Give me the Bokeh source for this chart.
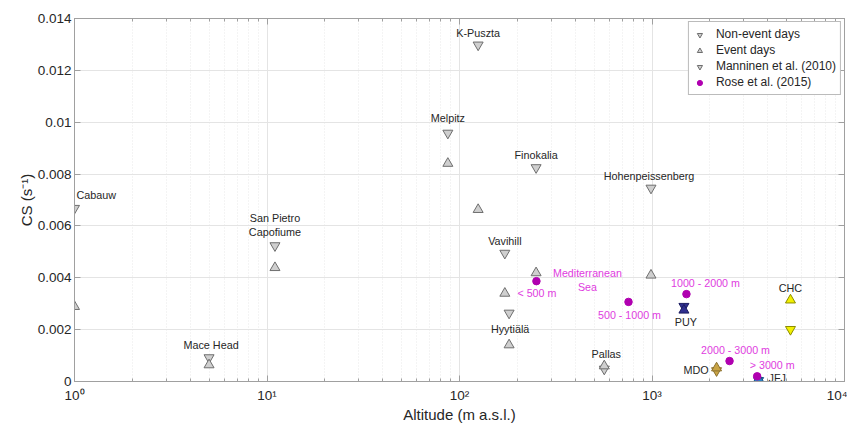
from bokeh.plotting import figure
from bokeh.models import (LogAxis, LinearAxis, FixedTicker, LogTicker, CustomJSTickFormatter,
                          ColumnDataSource, Legend, LegendItem, Range1d)
from bokeh.embed import file_html
from bokeh.resources import INLINE
from bokeh.core.properties import value

# ---------------- data ----------------
sites = ["Cabauw", "Mace Head", "San Pietro Capofiume", "Melpitz", "K-Puszta",
         "Vavihill", "Hyytiälä", "Finokalia", "Pallas", "Hohenpeissenberg"]
site_alt = [1, 5, 11, 87, 125, 172, 181, 250, 565, 988]
cs_nonevent = [0.00668, 0.00092, 0.00524, 0.00958, 0.01298, 0.00495, 0.00264, 0.00825, 0.00048, 0.00746]
cs_event = [0.00289, 0.00064, 0.00439, 0.00841, 0.00663, 0.00340, 0.00141, 0.00419, 0.00060, 0.00410]

stations = ["PUY", "MDO", "JFJ", "CHC"]
station_alt = [1465, 2165, 3580, 5240]
station_nonevent = [0.00290, 0.00042, 0.00004, 0.00201]
station_event = [0.00275, 0.00052, 0.00010, 0.00314]

rose_bins = ["< 500 m", "500 - 1000 m", "1000 - 2000 m", "2000 - 3000 m", "> 3000 m"]
rose_alt = [251, 755, 1510, 2528, 3518]
rose_cs = [0.00387, 0.00307, 0.00337, 0.00079, 0.00020]

y_ticks = [0, 0.002, 0.004, 0.006, 0.008, 0.01, 0.012, 0.014]

# ---------------- styles ----------------
station_fill = ["#30308f", "#c9a445", "#2a80c0", "#f2f000"]
station_line = ["#1c1c60", "#8a7030", "#1a4f80", "#8c8c00"]
GREY_FILL = "#cfcfcf"
GREY_LINE = "#6e6e6e"
TXT = "#262626"
MAG = "#e03ce0"
PURPLE = "#b000b0"
FONT = "Liberation Sans"

p = figure(x_axis_type="log", frame_width=770, frame_height=363,
           x_range=Range1d(1, 10000), y_range=Range1d(0, 0.014),
           output_backend="svg", toolbar_location=None,
           min_border_left=74, min_border_top=18, min_border_right=3, min_border_bottom=0)
p.background_fill_color = "white"
p.border_fill_color = "white"
p.outline_line_color = "#a0a0a0"

# axes
xa = p.xaxis[0]
xa.ticker = LogTicker(num_minor_ticks=10, desired_num_ticks=5)
xa.formatter = CustomJSTickFormatter(code="""
const e = Math.round(Math.log10(tick));
const sup = {'0':'\u2070','1':'\u00b9','2':'\u00b2','3':'\u00b3','4':'\u2074','5':'\u2075','-':'\u207b'};
return '10' + String(e).split('').map(c => sup[c]).join('');
""")
xa.axis_label = "Altitude (m a.s.l.)"
ya = p.yaxis[0]
ya.ticker = FixedTicker(ticks=y_ticks)
ya.formatter = CustomJSTickFormatter(code="return String(Number(tick.toPrecision(6)));")
ya.axis_label = "CS (s\u207b\u00b9)"
for ax in (xa, ya):
    ax.axis_line_color = "#a0a0a0"
    ax.major_tick_line_color = "#a0a0a0"
    ax.minor_tick_line_color = "#a0a0a0"
    ax.major_tick_in = 6
    ax.major_tick_out = 0
    ax.minor_tick_in = 3
    ax.minor_tick_out = 0
    ax.major_label_text_font = FONT
    ax.major_label_text_font_size = "13.5px"
    ax.major_label_text_color = TXT
    ax.axis_label_text_font = FONT
    ax.axis_label_text_font_size = "15px"
    ax.axis_label_text_font_style = "normal"
    ax.axis_label_text_color = TXT
    ax.major_label_standoff = 3
    ax.axis_label_standoff = 0
xa.major_label_standoff = 6
ya.minor_tick_line_color = None

# top / right box axes with ticks only
top = LogAxis(ticker=LogTicker(num_minor_ticks=10, desired_num_ticks=5),
              formatter=CustomJSTickFormatter(code="return '';"))
right = LinearAxis(ticker=FixedTicker(ticks=y_ticks), formatter=CustomJSTickFormatter(code="return '';"))
for ax in (top, right):
    ax.axis_line_color = "#a0a0a0"
    ax.major_tick_line_color = "#a0a0a0"
    ax.minor_tick_line_color = "#a0a0a0"
    ax.major_tick_in = 6
    ax.major_tick_out = 0
    ax.minor_tick_in = 3
    ax.minor_tick_out = 0
    ax.major_label_text_font_size = "0px"
    ax.major_label_standoff = 0
right.minor_tick_line_color = None
p.add_layout(top, "above")
p.add_layout(right, "right")

# grids
p.xgrid.grid_line_color = "#e4e4e4"
p.xgrid.minor_grid_line_color = "#e8e8e8"
p.xgrid.minor_grid_line_dash = "1 2"
p.ygrid.grid_line_color = "#e4e4e4"
p.ygrid.ticker = FixedTicker(ticks=y_ticks)

# ---------------- marks ----------------
site_src = ColumnDataSource(dict(x=site_alt, ne=cs_nonevent, ev=cs_event, name=sites))
r_ne = p.scatter("x", "ne", source=site_src, marker="inverted_triangle", size=10,
                 fill_color=GREY_FILL, line_color=GREY_LINE, line_width=1)
r_ev = p.scatter("x", "ev", source=site_src, marker="triangle", size=10,
                 fill_color=GREY_FILL, line_color=GREY_LINE, line_width=1)

st_src = ColumnDataSource(dict(x=station_alt, ne=station_nonevent, ev=station_event,
                               fc=station_fill, lc=station_line))
p.scatter("x", "ne", source=st_src, marker="inverted_triangle", size=10,
          fill_color="fc", line_color="lc", line_width=1)
p.scatter("x", "ev", source=st_src, marker="triangle", size=10,
          fill_color="fc", line_color="lc", line_width=1)

rose_src = ColumnDataSource(dict(x=rose_alt, y=rose_cs))
r_rose = p.scatter("x", "y", source=rose_src, marker="circle", size=7.5,
                   fill_color=PURPLE, line_color=PURPLE)

# ---------------- labels ----------------
site_lab = [("Cabauw", 0, 2, -13, "left"), ("Mace Head", 1, 2, -13, "center"),
            ("San Pietro", 2, 0, -28, "center"), ("Capofiume", 2, 0, -14, "center"),
            ("Melpitz", 3, 0, -15, "center"), ("K-Puszta", 4, 0, -12, "center"),
            ("Vavihill", 5, 0, -12, "center"), ("Hyytiälä", 6, 1, 16, "center"),
            ("Finokalia", 7, 0, -13, "center"), ("Pallas", 8, 2, -15, "center"),
            ("Hohenpeissenberg", 9, -2, -12, "center")]
lx, ly, lt, ldx, ldy, la = [], [], [], [], [], []
for t, i, dx, dy, a in site_lab:
    lx.append(site_alt[i]); ly.append(cs_nonevent[i]); lt.append(t)
    ldx.append(dx); ldy.append(dy); la.append(a)
st_lab = [(0, "ne", 2, 16, "center"), (1, "ne", -8, -1, "right"),
          (2, "ne", 10, -2, "left"), (3, "ev", 0, -12, "center")]
for i, which, dx, dy, a in st_lab:
    lx.append(station_alt[i])
    ly.append(station_nonevent[i] if which == "ne" else station_event[i])
    lt.append(stations[i]); ldx.append(dx); ldy.append(dy); la.append(a)
lab_src = ColumnDataSource(dict(x=lx, y=ly, t=lt, dx=ldx, dy=ldy, a=la))
p.text("x", "y", text="t", source=lab_src, x_offset="dx", y_offset="dy",
       text_align="a", text_baseline="middle", text_font=value(FONT),
       text_font_size="10.8px", text_color=TXT)

rose_lab = [(rose_bins[0], 0, -19, 12, "left"), ("Mediterranean", 0, 51, -8, "center"),
            ("Sea", 0, 51, 6, "center"), (rose_bins[1], 1, 1, 13, "center"),
            (rose_bins[2], 2, 19, -11, "center"), (rose_bins[3], 3, 6, -11, "center"),
            (rose_bins[4], 4, 15, -11, "center")]
rx, ry, rt, rdx, rdy, ra = [], [], [], [], [], []
for t, i, dx, dy, a in rose_lab:
    rx.append(rose_alt[i]); ry.append(rose_cs[i]); rt.append(t)
    rdx.append(dx); rdy.append(dy); ra.append(a)
rl_src = ColumnDataSource(dict(x=rx, y=ry, t=rt, dx=rdx, dy=rdy, a=ra))
p.text("x", "y", text="t", source=rl_src, x_offset="dx", y_offset="dy",
       text_align="a", text_baseline="middle", text_font=value(FONT),
       text_font_size="10.7px", text_color=MAG)

# ---------------- legend ----------------
legend = Legend(items=[LegendItem(label="Non-event days", renderers=[r_ne], index=0),
                       LegendItem(label="Event days", renderers=[r_ev], index=0),
                       LegendItem(label="Manninen et al. (2010)", renderers=[r_ne], index=0),
                       LegendItem(label="Rose et al. (2015)", renderers=[r_rose], index=0)],
                location="top_right")
legend.margin = 3
legend.padding = 4
legend.spacing = 0
legend.glyph_width = 13
legend.glyph_height = 13
legend.label_height = 16
legend.label_standoff = 10
legend.label_text_font = FONT
legend.label_text_font_size = "12px"
legend.label_text_color = TXT
legend.border_line_color = "#777777"
legend.background_fill_color = "white"
legend.background_fill_alpha = 1
p.add_layout(legend)

open("out.html", "w").write(file_html(p, INLINE))
